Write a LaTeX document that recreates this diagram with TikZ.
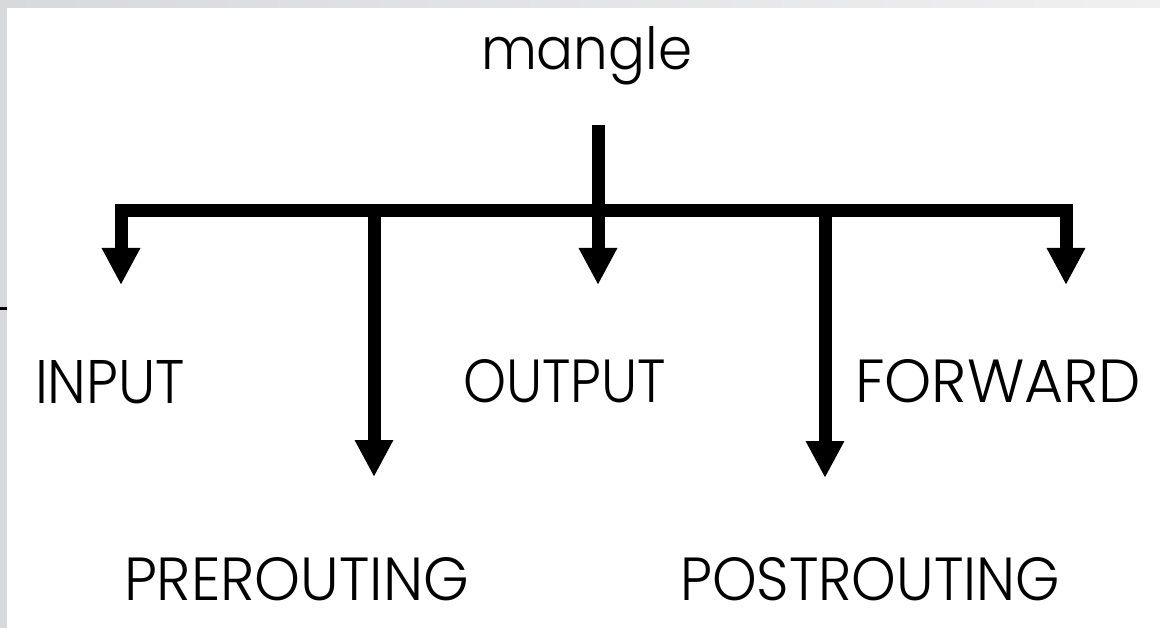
\documentclass[tikz,border=0pt]{standalone}
\usepackage{fontspec}
\usepackage{graphicx}
\setmainfont{Poppins}[UprightFont=* Light]
\usetikzlibrary{arrows.meta}
\definecolor{framegray}{RGB}{216,217,219}
\definecolor{framelight}{RGB}{240,240,241}
\tikzset{
  lbl/.style={anchor=base west, inner sep=0pt, outer sep=0pt},
  flow/.style={line width=13pt, line join=miter, line cap=butt},
  tipA/.style={-{Triangle[width=36pt,length=37pt]}},
}
\newcommand{\fitlbl}[2]{\resizebox{#1pt}{43pt}{#2}}
\begin{document}
\begin{tikzpicture}[x=1pt,y=-1pt]
\useasboundingbox (0,0) rectangle (1160,628);
\fill[white] (0,0) rectangle (1160,628);
% frame strips
\shade[left color=framegray, right color=framelight] (0,0) rectangle (1160,8);
\fill[framegray] (0,0) rectangle (7,628);
\fill[black] (0,307) rectangle (7,310);
% labels
\node[lbl] (mangle) at (481,70) {\fitlbl{211}{mangle}};
\node[lbl] (input) at (35,403) {\fitlbl{150}{INPUT}};
\node[lbl] (output) at (463,403) {\fitlbl{203}{OUTPUT}};
\node[lbl] (forward) at (855,403) {\fitlbl{286}{FORWARD}};
\node[lbl] (prerouting) at (124,600) {\fitlbl{345}{PREROUTING}};
\node[lbl] (postrouting) at (680,600) {\fitlbl{380}{POSTROUTING}};
% coordinates
\coordinate (stemtop) at (598,125);
\coordinate (jout) at (598,211);
\coordinate (jpre) at (374,211);
\coordinate (jpost) at (825,211);
\coordinate (tin) at (121,285);
\coordinate (tout) at (598,285);
\coordinate (tfw) at (1066,285);
\coordinate (cfw) at (1066,211);
\coordinate (tpre) at (374,477);
\coordinate (tpost) at (825,478);
% connectors
\draw[flow, {Triangle[width=36pt,length=37pt]}-{Triangle[width=36pt,length=37pt]}] (tin) |- (cfw) -- (tfw);
\draw[flow, tipA] (stemtop) -- (tout);
\draw[flow, tipA] (jpre) -- (tpre);
\draw[flow, tipA] (jpost) -- (tpost);
\end{tikzpicture}
\end{document}
